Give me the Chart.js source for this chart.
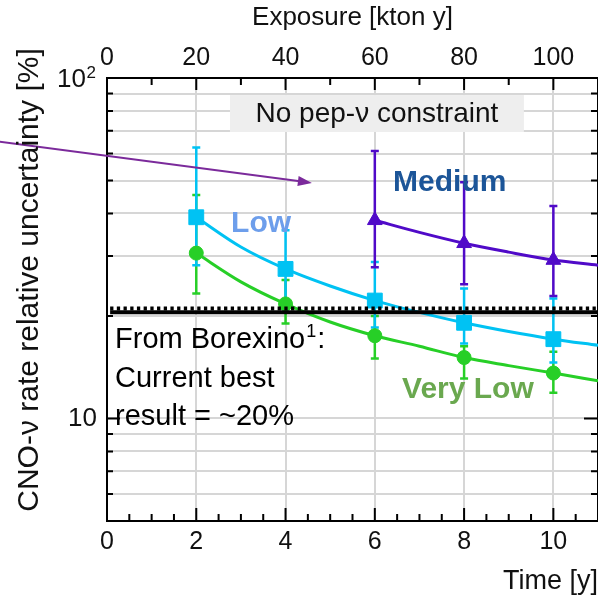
<!DOCTYPE html>
<html>
<head>
<meta charset="utf-8">
<script src="https://cdn.jsdelivr.net/npm/chart.js@4.4.1/dist/chart.umd.min.js"></script>
<style>
  html, body { margin: 0; padding: 0; background: #fff; }
  #wrap { width: 598px; height: 600px; }
</style>
</head>
<body>
<div id="wrap"><canvas id="cnoChart" width="598" height="600"></canvas></div>
<script>
// values
var timeYears = [2, 4, 6, 8, 10];
var mediumYears = [6, 8, 10];

var veryLowVal = [30.6, 21.7, 17.5, 15.1, 13.6];
var veryLowLo  = [23.3, 19.0, 15.0, 13.1, 11.9];
var veryLowHi  = [45.3, 25.5, 20.0, 16.3, 15.7];

var lowVal = [39.0, 27.5, 22.2, 19.1, 17.1];
var lowLo  = [28.2, 22.0, 18.5, 16.6, 14.6];
var lowHi  = [62.5, 35.7, 28.8, 24.1, 22.5];

var mediumVal = [38.2, 32.7, 29.2];
var mediumLo  = [27.8, 24.8, 22.9];
var mediumHi  = [61.0, 49.4, 42.1];

// fitted curves read at each year
var fitYears = [2, 3, 4, 5, 6, 7, 8, 9, 10, 11];
var veryLowFit = [30.6, 25.2, 21.7, 19.2, 17.5, 16.3, 15.1, 14.3, 13.6, 12.9];
var lowFit = [39.0, 31.9, 27.5, 24.5, 22.2, 20.5, 19.1, 18.0, 17.1, 16.4];
var mediumFitYears = [6, 7, 8, 9, 10, 11];
var mediumFit = [38.2, 35.2, 32.7, 30.8, 29.2, 28.2];

// Borexino current best (~20%)
var borexinoYears = [0.07, 11];
var borexinoLine = [20.5, 20.5];
var borexinoDash = [21.05, 21.05];

// axis ticks
var timeTicks = [0, 0.5, 1, 1.5, 2, 2.5, 3, 3.5, 4, 4.5, 5, 5.5, 6, 6.5, 7, 7.5, 8, 8.5, 9, 9.5, 10, 10.5, 11];
var timeLabels = [0, 2, 4, 6, 8, 10];
var exposureTicks = [0, 10, 20, 30, 40, 50, 60, 70, 80, 90, 100, 110];
var exposureLabels = [0, 20, 40, 60, 80, 100];
var yTicks = [5, 6, 7, 8, 9, 10, 20, 30, 40, 50, 60, 70, 80, 90, 100];
var yMajor = [10, 100];

var GREEN = '#27cf27', CYAN = '#00c2f3', PURPLE = '#500ac8';
var FONT = "'Liberation Sans', Arial, sans-serif";

function toXY(xs, ys) {
    return xs.map(function(x, i) { return { x: x, y: ys[i] }; });
}

function setTicks(list) {
    return function(scale) {
        scale.ticks = list.map(function(v) { return { value: v }; });
    };
}

// error bars under the markers
var errorBarPlugin = {
    id: 'errorBars',
    beforeDatasetsDraw: function(chart) {
        var ctx = chart.ctx, xs = chart.scales.x, ys = chart.scales.y;
        var sets = [
            { x: timeYears, lo: veryLowLo, hi: veryLowHi, color: GREEN },
            { x: timeYears, lo: lowLo, hi: lowHi, color: CYAN },
            { x: mediumYears, lo: mediumLo, hi: mediumHi, color: PURPLE }
        ];
        // grey label box first
        var bx1 = xs.getPixelForValue(2.755), bx2 = xs.getPixelForValue(9.34);
        var by1 = ys.getPixelForValue(89.1), by2 = ys.getPixelForValue(69.4);
        ctx.save();
        ctx.fillStyle = '#eeeeee';
        ctx.fillRect(bx1, by1, bx2 - bx1, by2 - by1);
        ctx.fillStyle = '#111';
        ctx.font = '28px ' + FONT;
        ctx.textAlign = 'center';
        ctx.textBaseline = 'middle';
        ctx.fillText('No pep-\u03bd constraint', (bx1 + bx2) / 2, (by1 + by2) / 2 + 1);

        ctx.lineWidth = 2.5;
        sets.forEach(function(s) {
            ctx.strokeStyle = s.color;
            s.x.forEach(function(xv, i) {
                var x = xs.getPixelForValue(xv);
                var yt = ys.getPixelForValue(s.hi[i]);
                var yb = ys.getPixelForValue(s.lo[i]);
                ctx.beginPath();
                ctx.moveTo(x, yt); ctx.lineTo(x, yb);
                ctx.moveTo(x - 4, yt); ctx.lineTo(x + 4, yt);
                ctx.moveTo(x - 4, yb); ctx.lineTo(x + 4, yb);
                ctx.stroke();
            });
        });
        ctx.restore();
    }
};

// inward tick marks, text labels and the arrow
var decorPlugin = {
    id: 'decor',
    afterDraw: function(chart) {
        var ctx = chart.ctx, a = chart.chartArea;
        var xs = chart.scales.x, x2 = chart.scales.x2, ys = chart.scales.y;
        ctx.save();
        ctx.strokeStyle = '#000';
        ctx.lineWidth = 2;
        ctx.beginPath();
        timeTicks.forEach(function(v) {
            var x = xs.getPixelForValue(v);
            var len = timeLabels.indexOf(v) >= 0 ? 13 : 7;
            ctx.moveTo(x, a.bottom); ctx.lineTo(x, a.bottom - len);
        });
        exposureTicks.forEach(function(v) {
            var x = x2.getPixelForValue(v);
            var len = exposureLabels.indexOf(v) >= 0 ? 12 : 7;
            ctx.moveTo(x, a.top); ctx.lineTo(x, a.top + len);
        });
        yTicks.forEach(function(v) {
            var y = ys.getPixelForValue(v);
            var len = yMajor.indexOf(v) >= 0 ? 13 : 6;
            ctx.moveTo(a.left, y); ctx.lineTo(a.left + len, y);
            ctx.moveTo(a.right - 1, y); ctx.lineTo(a.right - 1 - len, y);
        });
        ctx.stroke();

        // 10^2 label on the log axis
        ctx.fillStyle = '#111';
        ctx.textBaseline = 'middle';
        ctx.textAlign = 'right';
        var yTop = ys.getPixelForValue(100);
        ctx.font = '17px ' + FONT;
        ctx.fillText('2', a.left - 11, yTop - 5);
        ctx.font = '26px ' + FONT;
        ctx.fillText('10', a.left - 21, yTop + 2);

        // arrow
        var ax1 = xs.getPixelForValue(-2.4), ay1 = ys.getPixelForValue(65.0);
        var ax2 = xs.getPixelForValue(4.59), ay2 = ys.getPixelForValue(49.2);
        var ang = Math.atan2(ay2 - ay1, ax2 - ax1);
        ctx.strokeStyle = '#7b2a9b';
        ctx.fillStyle = '#7b2a9b';
        ctx.lineWidth = 2;
        ctx.beginPath();
        ctx.moveTo(ax1, ay1);
        ctx.lineTo(ax2 - 12 * Math.cos(ang), ay2 - 12 * Math.sin(ang));
        ctx.stroke();
        ctx.beginPath();
        ctx.moveTo(ax2, ay2);
        ctx.lineTo(ax2 - 14 * Math.cos(ang) + 5 * Math.sin(ang), ay2 - 14 * Math.sin(ang) - 5 * Math.cos(ang));
        ctx.lineTo(ax2 - 14 * Math.cos(ang) - 5 * Math.sin(ang), ay2 - 14 * Math.sin(ang) + 5 * Math.cos(ang));
        ctx.closePath();
        ctx.fill();

        // series names
        ctx.textBaseline = 'middle';
        ctx.textAlign = 'left';
        ctx.font = 'bold 30px ' + FONT;
        ctx.fillStyle = '#6d9eeb';
        ctx.fillText('Low', xs.getPixelForValue(2.78), ys.getPixelForValue(37.4));
        ctx.fillStyle = '#1c5598';
        ctx.fillText('Medium', xs.getPixelForValue(6.41), ys.getPixelForValue(49.1));
        ctx.fillStyle = '#6aa84f';
        ctx.fillText('Very Low', xs.getPixelForValue(6.61), ys.getPixelForValue(12.18));

        // Borexino note
        ctx.fillStyle = '#000';
        ctx.textBaseline = 'alphabetic';
        ctx.font = '29px ' + FONT;
        var tx = xs.getPixelForValue(0.18);
        var l1 = ys.getPixelForValue(16.07);
        ctx.fillText('From Borexino', tx, l1);
        var w = ctx.measureText('From Borexino').width;
        ctx.font = '18px ' + FONT;
        ctx.fillText('1', tx + w + 1, l1 - 11);
        ctx.font = '29px ' + FONT;
        ctx.fillText(':', tx + w + 12, l1);
        ctx.fillText('Current best', tx, ys.getPixelForValue(12.34));
        ctx.fillText('result = ~20%', tx, ys.getPixelForValue(9.54));

        // y axis title
        ctx.translate(30, 280);
        ctx.rotate(-Math.PI / 2);
        ctx.textAlign = 'center';
        ctx.textBaseline = 'middle';
        ctx.font = '30px ' + FONT;
        ctx.fillStyle = '#111';
        ctx.fillText('CNO-\u03bd rate relative uncertainty [%]', 0, 0);
        ctx.restore();
    }
};

function noSidePadding(scale, h) {
    scale.height = h;
    scale.paddingLeft = 0;
    scale.paddingRight = 0;
}

var ctx = document.getElementById('cnoChart');
var myChartCno = new Chart(ctx, {
    type: 'scatter',
    data: {
        datasets: [{
            label: 'Borexino',
            data: toXY(borexinoYears, borexinoLine),
            showLine: true,
            borderColor: '#000',
            borderWidth: 4,
            pointRadius: 0,
            order: 0
        }, {
            label: 'Borexino dash',
            data: toXY(borexinoYears, borexinoDash),
            showLine: true,
            borderColor: '#000',
            borderWidth: 4,
            borderDash: [3.3, 3.4],
            pointRadius: 0,
            order: 0
        }, {
            label: 'Very Low',
            data: toXY(timeYears, veryLowVal),
            pointStyle: 'circle',
            pointRadius: 7,
            backgroundColor: GREEN,
            borderColor: GREEN,
            order: 1
        }, {
            label: 'Low',
            data: toXY(timeYears, lowVal),
            pointStyle: 'rect',
            pointRadius: 10.5,
            backgroundColor: CYAN,
            borderColor: CYAN,
            order: 1
        }, {
            label: 'Medium',
            data: toXY(mediumYears, mediumVal),
            pointStyle: 'triangle',
            pointRadius: 8.5,
            backgroundColor: PURPLE,
            borderColor: PURPLE,
            order: 1
        }, {
            label: 'Very Low fit',
            data: toXY(fitYears, veryLowFit),
            showLine: true,
            borderColor: GREEN,
            borderWidth: 3,
            pointRadius: 0,
            cubicInterpolationMode: 'monotone',
            order: 2
        }, {
            label: 'Low fit',
            data: toXY(fitYears, lowFit),
            showLine: true,
            borderColor: CYAN,
            borderWidth: 3,
            pointRadius: 0,
            cubicInterpolationMode: 'monotone',
            order: 2
        }, {
            label: 'Medium fit',
            data: toXY(mediumFitYears, mediumFit),
            showLine: true,
            borderColor: PURPLE,
            borderWidth: 3,
            pointRadius: 0,
            cubicInterpolationMode: 'monotone',
            order: 2
        }]
    },
    options: {
        responsive: false,
        animation: false,
        devicePixelRatio: 1,
        layout: { padding: 0, autoPadding: false },
        plugins: {
            legend: { display: false },
            tooltip: { enabled: false }
        },
        scales: {
            x: {
                type: 'linear',
                position: 'bottom',
                min: 0,
                max: 11,
                afterBuildTicks: setTicks(timeTicks),
                afterFit: function(scale) { noSidePadding(scale, 79); },
                ticks: {
                    autoSkip: false,
                    maxRotation: 0,
                    padding: 6,
                    color: '#111',
                    font: { family: FONT, size: 25 },
                    callback: function(v) { return timeLabels.indexOf(v) >= 0 ? String(v) : ''; }
                },
                grid: {
                    drawTicks: false,
                    lineWidth: 2,
                    color: function(c) {
                        var v = c.tick ? c.tick.value : -1;
                        return (v > 0 && v < 11 && timeLabels.indexOf(v) >= 0) ? '#d6d6d6' : 'rgba(0,0,0,0)';
                    }
                },
                border: { color: '#000', width: 2 },
                title: {
                    display: true,
                    text: 'Time [y]',
                    align: 'end',
                    color: '#111',
                    font: { family: FONT, size: 27 },
                    padding: { top: 0, bottom: 2 }
                }
            },
            x2: {
                type: 'linear',
                position: 'top',
                min: 0,
                max: 110,
                afterBuildTicks: setTicks(exposureTicks),
                afterFit: function(scale) { noSidePadding(scale, 78); },
                ticks: {
                    autoSkip: false,
                    maxRotation: 0,
                    padding: 5,
                    color: '#111',
                    font: { family: FONT, size: 25 },
                    callback: function(v) { return exposureLabels.indexOf(v) >= 0 ? String(v) : ''; }
                },
                grid: { drawOnChartArea: false, drawTicks: false },
                border: { color: '#000', width: 2 },
                title: {
                    display: true,
                    text: 'Exposure [kton y]',
                    color: '#111',
                    font: { family: FONT, size: 26 },
                    padding: { top: 2, bottom: 0 }
                }
            },
            y: {
                type: 'logarithmic',
                position: 'left',
                min: 5,
                max: 100,
                afterBuildTicks: setTicks(yTicks),
                afterFit: function(scale) { scale.width = 107; },
                ticks: {
                    autoSkip: false,
                    padding: 10,
                    color: '#111',
                    font: { family: FONT, size: 26 },
                    callback: function(v) { return v === 10 ? '10' : ''; }
                },
                grid: {
                    drawTicks: false,
                    lineWidth: 2,
                    color: function(c) {
                        var v = c.tick ? c.tick.value : 0;
                        return (v > 5 && v < 100) ? '#d6d6d6' : 'rgba(0,0,0,0)';
                    }
                },
                border: { color: '#000', width: 2 }
            },
            y2: {
                type: 'logarithmic',
                position: 'right',
                min: 5,
                max: 100,
                afterFit: function(scale) { scale.width = 0; },
                ticks: { display: false },
                grid: { drawOnChartArea: false, drawTicks: false },
                border: { color: '#000', width: 2 }
            }
        }
    },
    plugins: [errorBarPlugin, decorPlugin]
});
</script>
</body>
</html>
